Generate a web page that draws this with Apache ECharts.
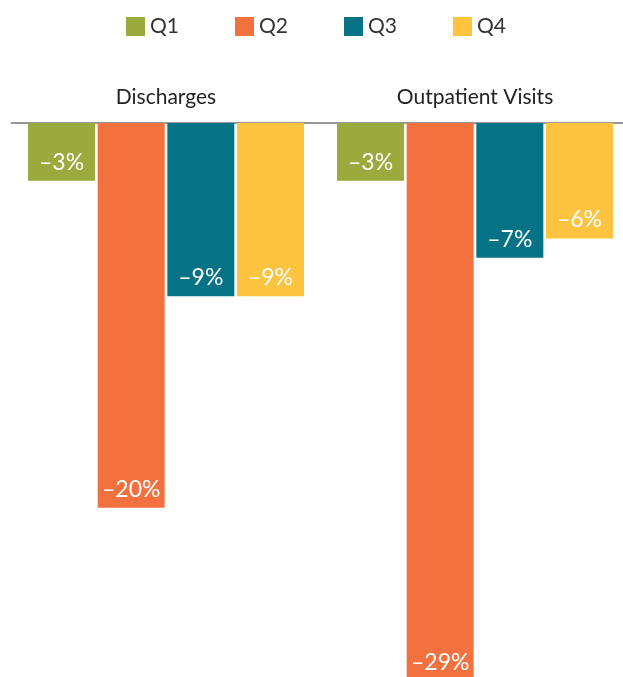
<!DOCTYPE html>
<html><head><meta charset="utf-8">
<script src="https://cdn.jsdelivr.net/npm/echarts@6/dist/echarts.min.js"></script>
<style>html,body{margin:0;padding:0;background:#fff}#c{width:623px;height:677px}</style>
</head><body><div id="c"></div>
<script>
const categories = ['Discharges', 'Outpatient Visits'];
const seriesNames = ['Q1', 'Q2', 'Q3', 'Q4'];
const q1 = [-3, -3];
const q2 = [-20, -29];
const q3 = [-9, -7];
const q4 = [-9, -6];
const colors = ['#9aaa3c', '#f2713f', '#057286', '#fec33f'];
const values = [q1, q2, q3, q4];
const font = 'Lato, "Noto Sans", sans-serif';

const chart = echarts.init(document.getElementById('c'));
chart.setOption({
  animation: false,
  textStyle: { fontFamily: font },
  legend: {
    top: 11, left: 121,
    itemWidth: 19, itemHeight: 19, itemGap: 56,
    icon: 'rect',
    textStyle: { fontSize: 21, color: '#333', fontFamily: font },
    data: seriesNames
  },
  grid: { left: 11.5, width: 618, top: 123, height: 558, containLabel: false, outerBoundsMode: 'none' },
  xAxis: {
    type: 'category', position: 'top', data: categories,
    axisLine: { show: true, lineStyle: { color: '#999', width: 2 } },
    axisTick: { show: false },
    axisLabel: { fontSize: 21, color: '#222', margin: 15, fontFamily: font }
  },
  yAxis: {
    type: 'value', min: -29, max: 0, show: false,
    splitLine: { show: false }
  },
  series: seriesNames.map((n, i) => ({
    name: n, type: 'bar', data: values[i],
    itemStyle: { color: colors[i] },
    barCategoryGap: '10.7%', barGap: '4%',
    label: {
      show: true, position: 'insideBottom', distance: 7,
      color: '#fff', fontSize: 23, fontFamily: font,
      formatter: p => '\u2013' + Math.abs(p.value) + '%'
    }
  }))
});
</script></body></html>
